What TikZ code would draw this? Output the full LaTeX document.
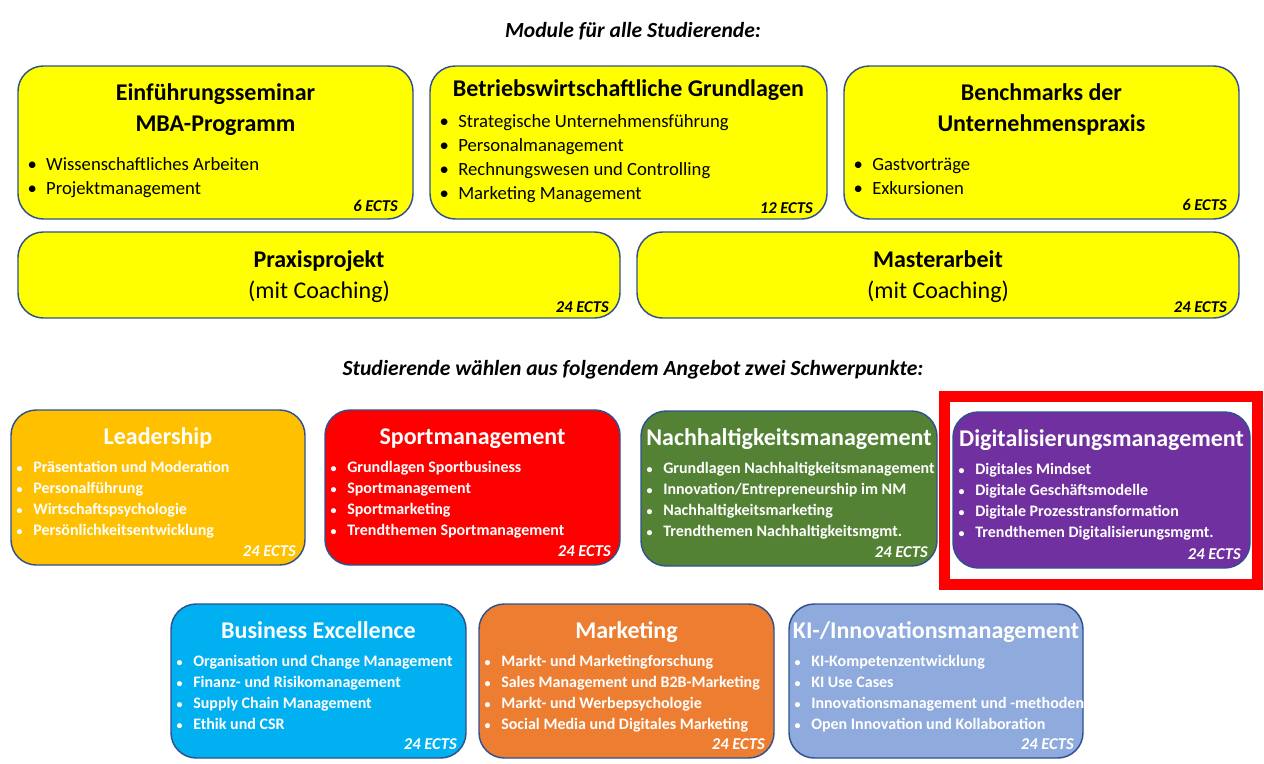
\documentclass[tikz,border=0pt]{standalone}
\usepackage{fontspec}
\setmainfont{Carlito}
\usetikzlibrary{fit}

\definecolor{rahmen}{HTML}{2F528F}
\definecolor{gelb}{HTML}{FFFF00}
\definecolor{goldgelb}{HTML}{FFC000}
\definecolor{rot}{HTML}{FF0000}
\definecolor{gruen}{HTML}{548235}
\definecolor{lila}{HTML}{7030A0}
\definecolor{tuerkis}{HTML}{00B0F0}
\definecolor{orange}{HTML}{ED7D31}
\definecolor{hellblau}{HTML}{8FAADC}

\newcommand{\pkt}[1]{\llap{\makebox[#1][l]{\textbullet}}}
\newcommand{\kpkt}[1]{\llap{\makebox[#1][l]{\small\textbullet}}}

\begin{document}
\begin{tikzpicture}[x=0.75pt,y=-0.75pt,
  modul/.style={draw=rahmen, line width=1.1pt, rounded corners=19pt, fill=#1, inner sep=0pt},
  kopf/.style={font=\bfseries\itshape\fontsize{16.2}{19}\selectfont, anchor=base, inner sep=0pt},
  titel/.style={font=\bfseries\fontsize{18}{21}\selectfont, anchor=base, inner sep=0pt},
  zusatz/.style={font=\fontsize{18}{21}\selectfont, anchor=base, inner sep=0pt},
  punkt/.style={font=\fontsize{14}{17}\selectfont, anchor=base west, inner sep=0pt},
  wtitel/.style={font=\bfseries\fontsize{18}{21}\selectfont, text=white, anchor=base, inner sep=0pt},
  wpunkt/.style={font=\bfseries\fontsize{12}{14}\selectfont, text=white, anchor=base west, inner sep=0pt},
  ects/.style={font=\bfseries\itshape\fontsize{12.4}{14}\selectfont, anchor=base east, inner sep=0pt},
  markierung/.style={draw=rot, line width=8.25pt, inner sep=0pt}]
  \useasboundingbox (0,0) rectangle (1264,764);

  % Pflichtmodule
  \node[kopf] (kopf1) at (633,37.5) {Module für alle Studierende:};

  \node[modul=gelb, fit={(18,66) (413,219)}] (einf) {};
  \node[titel] (einf-titel1) at (215.5,100) {Einführungsseminar};
  \node[titel] (einf-titel2) at (215.5,131) {MBA-Programm};
  \foreach \t [count=\i] in {Wissenschaftliches Arbeiten,Projektmanagement}
    \node[punkt] (einf-\i) at (46,146+24*\i) {\pkt{14pt}\t};
  \node[ects] (einf-ects) at (398,211) {6 ECTS};

  \node[modul=gelb, fit={(430,66) (827,219)}] (bwl) {};
  \node[titel] (bwl-titel) at (628.5,96) {Betriebswirtschaftliche Grundlagen};
  \foreach \t [count=\i] in {Strategische Unternehmensführung,Personalmanagement,Rechnungswesen und Controlling,Marketing Management}
    \node[punkt] (bwl-\i) at (458,103+24*\i) {\pkt{14pt}\t};
  \node[ects] (bwl-ects) at (813,213) {12 ECTS};

  \node[modul=gelb, fit={(844,66) (1239,219)}] (bench) {};
  \node[titel] (bench-titel1) at (1041.5,100) {Benchmarks der};
  \node[titel] (bench-titel2) at (1041.5,131) {Unternehmenspraxis};
  \foreach \t [count=\i] in {Gastvorträge,Exkursionen}
    \node[punkt] (bench-\i) at (872,146+24*\i) {\pkt{14pt}\t};
  \node[ects] (bench-ects) at (1227,210) {6 ECTS};

  \node[modul=gelb, fit={(18,232) (620,318)}] (praxis) {};
  \node[titel] (praxis-titel) at (319,267) {Praxisprojekt};
  \node[zusatz] (praxis-zusatz) at (319,298) {(mit Coaching)};
  \node[ects] (praxis-ects) at (609,312) {24 ECTS};

  \node[modul=gelb, fit={(637,232) (1239,318)}] (master) {};
  \node[titel] (master-titel) at (938,267) {Masterarbeit};
  \node[zusatz] (master-zusatz) at (938,298) {(mit Coaching)};
  \node[ects] (master-ects) at (1227,312) {24 ECTS};

  % Schwerpunkte
  \node[kopf] (kopf2) at (633,375.5) {Studierende wählen aus folgendem Angebot zwei Schwerpunkte:};

  \foreach \n/\xa/\ya/\xb/\yb/\farbe/\titel/\liste in {
    lead/11/410/305/565/goldgelb/Leadership/{Präsentation und Moderation,Personalführung,Wirtschaftspsychologie,Persönlichkeitsentwicklung},
    sport/325/410/620/565/rot/Sportmanagement/{Grundlagen Sportbusiness,Sportmanagement,Sportmarketing,Trendthemen Sportmanagement},
    nach/641/411/937/566/gruen/Nachhaltigkeitsmanagement/{Grundlagen Nachhaltigkeitsmanagement,{Innovation/Entrepreneurship im NM},Nachhaltigkeitsmarketing,Trendthemen Nachhaltigkeitsmgmt.},
    digi/953/412/1250/568/lila/Digitalisierungsmanagement/{Digitales Mindset,Digitale Geschäftsmodelle,Digitale Prozesstransformation,Trendthemen Digitalisierungsmgmt.},
    busi/171/604/466/758/tuerkis/Business Excellence/{Organisation und Change Management,Finanz- und Risikomanagement,Supply Chain Management,Ethik und CSR},
    mark/479/604/774/758/orange/Marketing/{Markt- und Marketingforschung,Sales Management und B2B-Marketing,Markt- und Werbepsychologie,Social Media und Digitales Marketing},
    ki/789/604/1083/758/hellblau/{KI-/Innovationsmanagement}/{KI-Kompetenzentwicklung,KI Use Cases,Innovationsmanagement und -methoden,Open Innovation und Kollaboration}}{
    \node[modul=\farbe, fit={(\xa,\ya) (\xb,\yb)}] (\n) {};
    \node[wtitel] (\n-titel) at ({(\xa+\xb)/2},\ya+34.5) {\titel};
    \foreach \t [count=\i] in \liste
      \node[wpunkt] (\n-\i) at (\xa+22,\ya+41+21*\i) {\kpkt{12.5pt}\t};
    \node[ects, text=white] (\n-ects) at (\xb-9,\yb-8.5) {24 ECTS};
  }

  \node[markierung, fit={(944.5,396.5) (1257,584)}] (rahmen-digi) {};
\end{tikzpicture}
\end{document}
